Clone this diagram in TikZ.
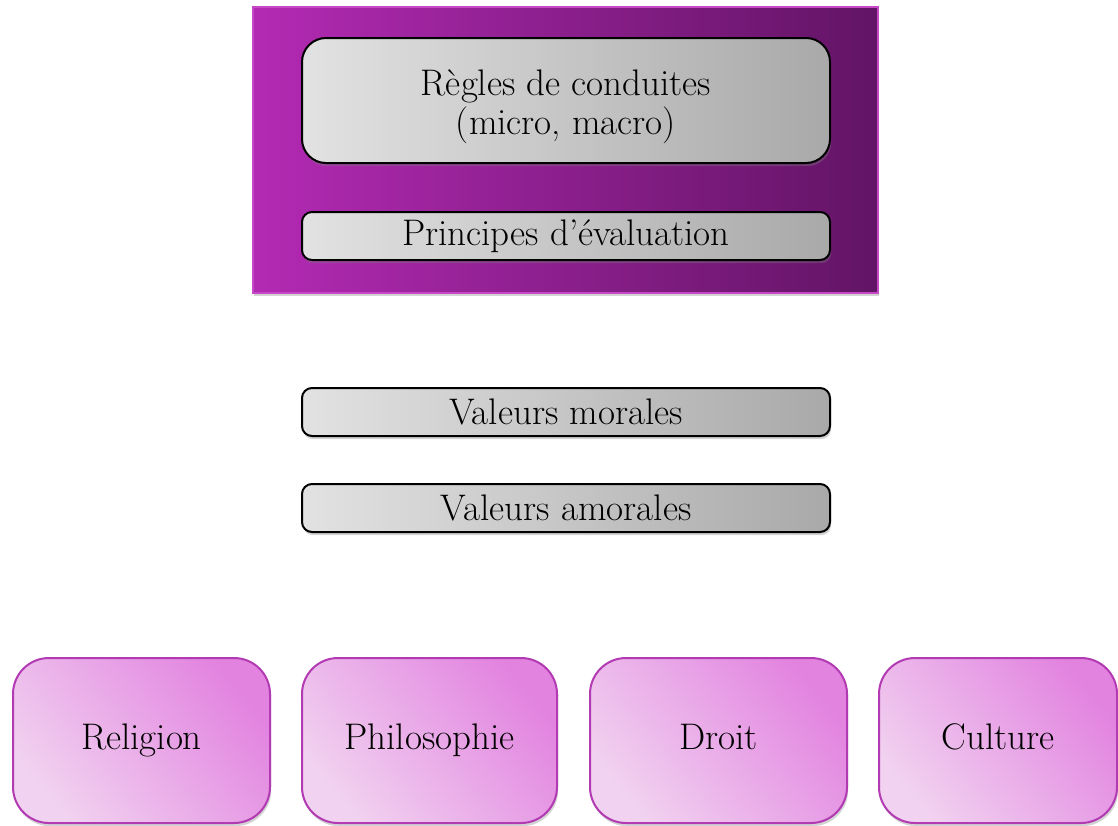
\documentclass[tikz,border=0pt]{standalone}
\usepackage{tikz}
\usetikzlibrary{shadows}

\definecolor{plumL}{HTML}{B32AB3}
\definecolor{plumM}{HTML}{AA27AB}
\definecolor{plumD}{HTML}{621465}
\definecolor{plumB}{HTML}{C648C6}
\definecolor{greyL}{HTML}{E2E2E2}
\definecolor{greyD}{HTML}{A9A9A9}
\definecolor{pinkL}{HTML}{F1D2F0}
\definecolor{pinkD}{HTML}{E283E0}
\definecolor{pinkB}{HTML}{B23AB2}

\tikzset{
  softshadow/.style={drop shadow={opacity=0.35, shadow xshift=0.6pt, shadow yshift=-1.6pt}},
  greybox/.style={draw=black, line width=1pt, left color=greyL, right color=greyD,
    softshadow, minimum width=264pt, inner sep=0pt,
    font=\fontsize{18.5}{19}\selectfont},
  pinkbox/.style={draw=pinkB, line width=1pt, top color=pinkD, bottom color=pinkL,
    shading angle=-50, rounded corners=18pt, softshadow, minimum height=82.5pt,
    inner sep=0pt, text height=2.4ex, text depth=0.3ex,
    font=\fontsize{18.5}{19}\selectfont}
}

\begin{document}
\begin{tikzpicture}[x=0.5pt, y=-0.5pt]
  \useasboundingbox (0,0) rectangle (1118,825);

  % Purple frame
  \node[draw=plumB, line width=0.6pt, left color=plumL, middle color=plumM, right color=plumD,
    softshadow, minimum width=312.5pt, minimum height=143pt, inner sep=0pt] (frame) at (565.5,150) {};

  % Boxes inside the frame
  \node[greybox, rounded corners=12pt, minimum height=62.5pt] (regles) at (566,100.5)
    {\raisebox{-7.9pt}[0pt][0pt]{\begin{tabular}{@{}c@{}}R\`egles de conduites\\(micro, macro)\end{tabular}}};
  \node[greybox, rounded corners=5pt, minimum height=24pt] (principes) at (566,236)
    {Principes d'\'evaluation};

  % Values
  \node[greybox, rounded corners=5pt, minimum height=24pt] (morales) at (566,412) {Valeurs morales};
  \node[greybox, rounded corners=5pt, minimum height=24pt] (amorales) at (566,508) {Valeurs amorales};

  % Sources
  \foreach \x/\w/\name/\txt in {141.5/128.5/religion/Religion, 429.5/127.5/philo/Philosophie,
                                718.5/128.5/droit/Droit, 998/119/culture/Culture}
    \node[pinkbox, minimum width=\w pt] (\name) at (\x,740.5) {\txt};
\end{tikzpicture}
\end{document}
